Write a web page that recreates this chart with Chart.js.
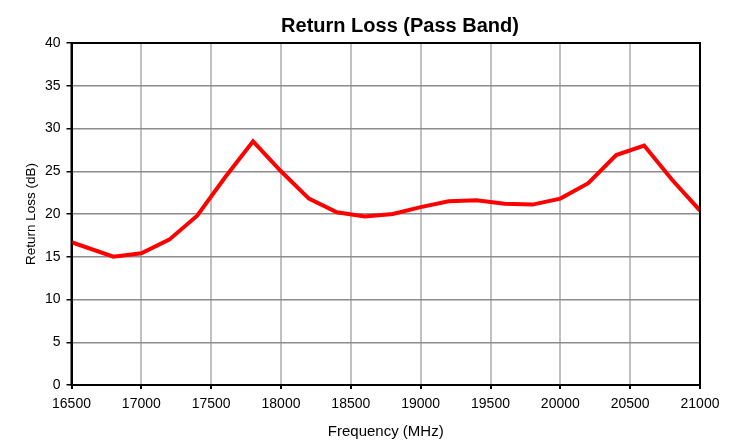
<!DOCTYPE html>
<html>
<head>
<meta charset="utf-8">
<script src="https://cdn.jsdelivr.net/npm/chart.js@4.4.1/dist/chart.umd.min.js"></script>
<style>
  html, body { margin: 0; padding: 0; background: #fff; }
  #wrap { width: 736px; height: 441px; }
</style>
</head>
<body>
<div id="wrap"><canvas id="rlChart" width="736" height="441"></canvas></div>
<script>
// frequency points (MHz) and measured return loss (dB)
const freqs = [16500, 16800, 17000, 17200, 17400, 17600, 17800, 18000, 18200, 18400, 18600,
               18800, 19000, 19200, 19400, 19600, 19800, 20000, 20200, 20400, 20600, 20800, 21000];
const returnLoss = [16.7, 15.0, 15.4, 17.0, 19.8, 24.3, 28.5, 25.0, 21.8, 20.2, 19.7,
                    20.0, 20.8, 21.5, 21.6, 21.2, 21.1, 21.8, 23.6, 26.9, 28.0, 24.0, 20.4];
const xRange = [16500, 21000];
const yRange = [0, 40];

const FONT = "'Liberation Sans', Arial, sans-serif";

// chart title is centred a bit right of the canvas centre, so draw it by hand
const titlePlugin = {
    id: "plotTitle",
    afterDraw(chart) {
        const ctx = chart.ctx;
        ctx.save();
        ctx.font = "bold 20px " + FONT;
        ctx.fillStyle = "#000";
        ctx.textAlign = "center";
        ctx.textBaseline = "alphabetic";
        ctx.fillText("Return Loss (Pass Band)", 400, 32);
        ctx.restore();
    }
};

// black frame round the plot area
const framePlugin = {
    id: "frame",
    afterDatasetsDraw(chart) {
        const a = chart.chartArea;
        const ctx = chart.ctx;
        ctx.save();
        ctx.strokeStyle = "#000";
        ctx.lineWidth = 2;
        ctx.strokeRect(a.left, a.top, a.right - a.left, a.bottom - a.top);
        ctx.restore();
    }
};

const ctx = document.getElementById("rlChart").getContext("2d");
new Chart(ctx, {
    type: "line",
    data: {
        datasets: [{
            data: freqs.map((f, i) => ({ x: f, y: returnLoss[i] })),
            borderColor: "#ff0000",
            borderWidth: 4,
            pointRadius: 0,
            tension: 0,
            fill: false
        }]
    },
    options: {
        responsive: false,
        animation: false,
        layout: { padding: { left: 0, top: 43, right: 36, bottom: 0 } },
        plugins: {
            legend: { display: false },
            tooltip: { enabled: false }
        },
        scales: {
            x: {
                type: "linear",
                min: xRange[0],
                max: xRange[1],
                afterFit: s => { s.height = 56; },
                ticks: {
                    stepSize: 500,
                    color: "#000",
                    font: { family: FONT, size: 14 },
                    padding: 7,
                    maxRotation: 0,
                    callback: v => String(v)
                },
                grid: { color: "#c0c0c0", lineWidth: 2, tickColor: "#000", tickLength: 4 },
                border: { color: "#000", width: 2 },
                title: {
                    display: true,
                    text: "Frequency (MHz)",
                    color: "#000",
                    font: { family: FONT, size: 15 },
                    padding: { top: 0, bottom: 0 }
                }
            },
            y: {
                min: yRange[0],
                max: yRange[1],
                afterFit: s => { s.width = 71.5; },
                ticks: {
                    stepSize: 5,
                    color: "#000",
                    font: { family: FONT, size: 14 },
                    padding: 6
                },
                grid: { color: "#8c8c8c", lineWidth: 1.5, tickColor: "#000", tickLength: 5 },
                border: { color: "#000", width: 2 },
                title: {
                    display: true,
                    text: "Return Loss (dB)",
                    color: "#000",
                    font: { family: FONT, size: 13.5 },
                    padding: { top: 23, bottom: 0 }
                }
            }
        }
    },
    plugins: [titlePlugin, framePlugin]
});
</script>
</body>
</html>
